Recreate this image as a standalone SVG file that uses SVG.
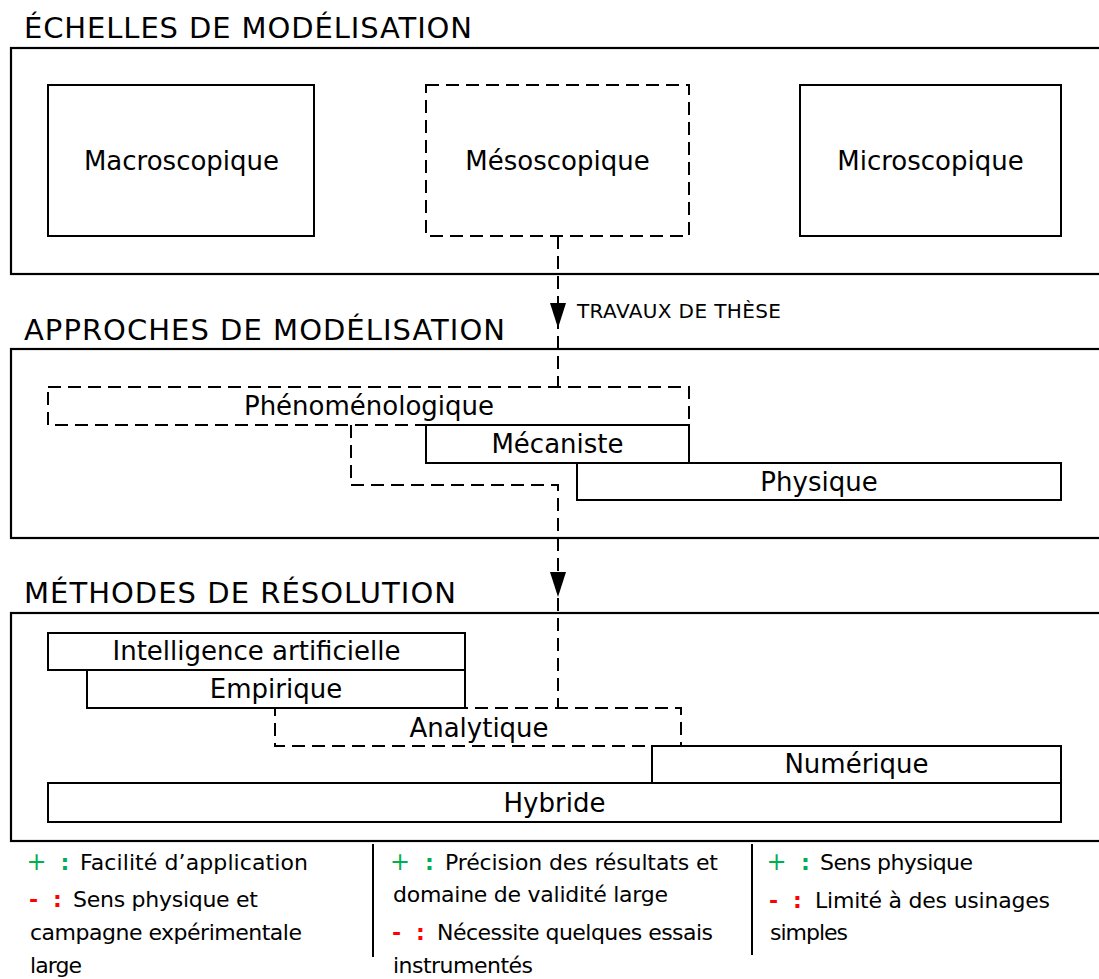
<svg xmlns="http://www.w3.org/2000/svg" width="1099" height="979" viewBox="0 0 1099 979">
<style>
text{font-family:"DejaVu Sans","Liberation Sans",sans-serif;fill:#000}
.title{font-size:29px}
.lbl{font-size:26px;text-anchor:middle}
.small{font-size:20px}
.note{font-size:22px}
.frame{fill:none;stroke:#000;stroke-width:2.2}
.box{fill:none;stroke:#000;stroke-width:2}
.dbox{fill:none;stroke:#000;stroke-width:2;stroke-dasharray:13 7}
.conn{fill:none;stroke:#000;stroke-width:2;stroke-dasharray:13 7}
.sep{stroke:#000;stroke-width:2}
.plus{fill:#00b050;font-size:24px;text-anchor:middle}
.pc{fill:#00b050;font-size:22px;font-weight:bold;text-anchor:middle}
.minus{fill:#ff0000;font-size:22px;font-weight:bold;text-anchor:middle}
</style>
<defs>
<marker id="arr" viewBox="0 0 25 16" refX="25" refY="8" markerWidth="25" markerHeight="16" markerUnits="userSpaceOnUse" orient="auto">
<path d="M0,0 L25,8 L0,16 Z" fill="#000"/>
</marker>
</defs>
<rect width="1099" height="979" fill="#fff"/>

<g id="echelles">
<text class="title" x="24" y="38" textLength="448">ÉCHELLES DE MODÉLISATION</text>
<rect class="frame" x="11" y="48" width="1100" height="226"/>
</g>
<g id="macroscopique">
<rect class="box" x="48" y="85" width="266" height="151"/>
<text class="lbl" x="181.5" y="170">Macroscopique</text>
</g>
<g id="mesoscopique">
<rect class="dbox" x="426" y="85" width="263" height="151"/>
<text class="lbl" x="557.5" y="170">Mésoscopique</text>
</g>
<g id="microscopique">
<rect class="box" x="800" y="85" width="261" height="151"/>
<text class="lbl" x="930.5" y="170">Microscopique</text>
</g>

<g id="approches">
<text class="title" x="24" y="340" textLength="481">APPROCHES DE MODÉLISATION</text>
<rect class="frame" x="11" y="349" width="1100" height="189"/>
</g>
<g id="phenomenologique">
<rect class="dbox" x="48" y="387" width="641" height="38"/>
<text class="lbl" x="369" y="415">Phénoménologique</text>
</g>
<g id="mecaniste">
<rect class="box" x="426" y="425" width="263" height="38"/>
<text class="lbl" x="557.5" y="453">Mécaniste</text>
</g>
<g id="physique">
<rect class="box" x="577" y="463" width="484" height="37"/>
<text class="lbl" x="819" y="491">Physique</text>
</g>

<g id="methodes">
<text class="title" x="24" y="603" textLength="432">MÉTHODES DE RÉSOLUTION</text>
<rect class="frame" x="11" y="613" width="1100" height="228"/>
</g>
<g id="analytique">
<rect class="dbox" x="275" y="708" width="406" height="38"/>
<text class="lbl" x="479" y="737">Analytique</text>
</g>
<g id="ia">
<rect class="box" x="48" y="633" width="417" height="37"/>
<text class="lbl" x="256.5" y="660">Intelligence artificielle</text>
</g>
<g id="empirique">
<rect class="box" x="87" y="670" width="378" height="38"/>
<text class="lbl" x="276" y="698">Empirique</text>
</g>
<g id="numerique">
<rect class="box" x="652" y="746" width="409" height="37"/>
<text class="lbl" x="856.5" y="773">Numérique</text>
</g>
<g id="hybride">
<rect class="box" x="48" y="783" width="1013" height="39"/>
<text class="lbl" x="554.5" y="812">Hybride</text>
</g>

<g id="connectors">
<path class="conn" d="M558,236 V387"/>
<path d="M558,303 V328" stroke="none" fill="none" marker-end="url(#arr)"/>
<path class="conn" d="M351,425 V485 H558 V708"/>
<path d="M558,572 V597" stroke="none" fill="none" marker-end="url(#arr)"/>
</g>
<g id="travaux-label">
<text class="small" x="577" y="318" textLength="204">TRAVAUX DE THÈSE</text>
</g>

<g id="legend">
<line class="sep" x1="373" y1="844" x2="373" y2="957"/>
<line class="sep" x1="752" y1="844" x2="752" y2="955"/>

<text class="plus" x="36.5" y="870">+</text><text class="pc" x="65" y="870">:</text>
<text class="note" x="80" y="870" textLength="228">Facilité d’application</text>
<text class="minus" x="33.5" y="907">-</text><text class="minus" x="57.5" y="907">:</text>
<text class="note" x="73" y="907" textLength="185">Sens physique et</text>
<text class="note" x="30" y="940" textLength="272">campagne expérimentale</text>
<text class="note" x="30" y="973" textLength="52">large</text>

<text class="plus" x="400" y="870">+</text><text class="pc" x="429.5" y="870">:</text>
<text class="note" x="445" y="870" textLength="273">Précision des résultats et</text>
<text class="note" x="393" y="902" textLength="275">domaine de validité large</text>
<text class="minus" x="396.5" y="940">-</text><text class="minus" x="420.5" y="940">:</text>
<text class="note" x="437" y="940" textLength="276">Nécessite quelques essais</text>
<text class="note" x="393" y="973" textLength="140">instrumentés</text>

<text class="plus" x="776.5" y="870">+</text><text class="pc" x="805.5" y="870">:</text>
<text class="note" x="820" y="870" textLength="153">Sens physique</text>
<text class="minus" x="773.5" y="908">-</text><text class="minus" x="797.5" y="908">:</text>
<text class="note" x="815" y="908" textLength="235">Limité à des usinages</text>
<text class="note" x="770" y="940" textLength="78">simples</text>
</g>
</svg>
